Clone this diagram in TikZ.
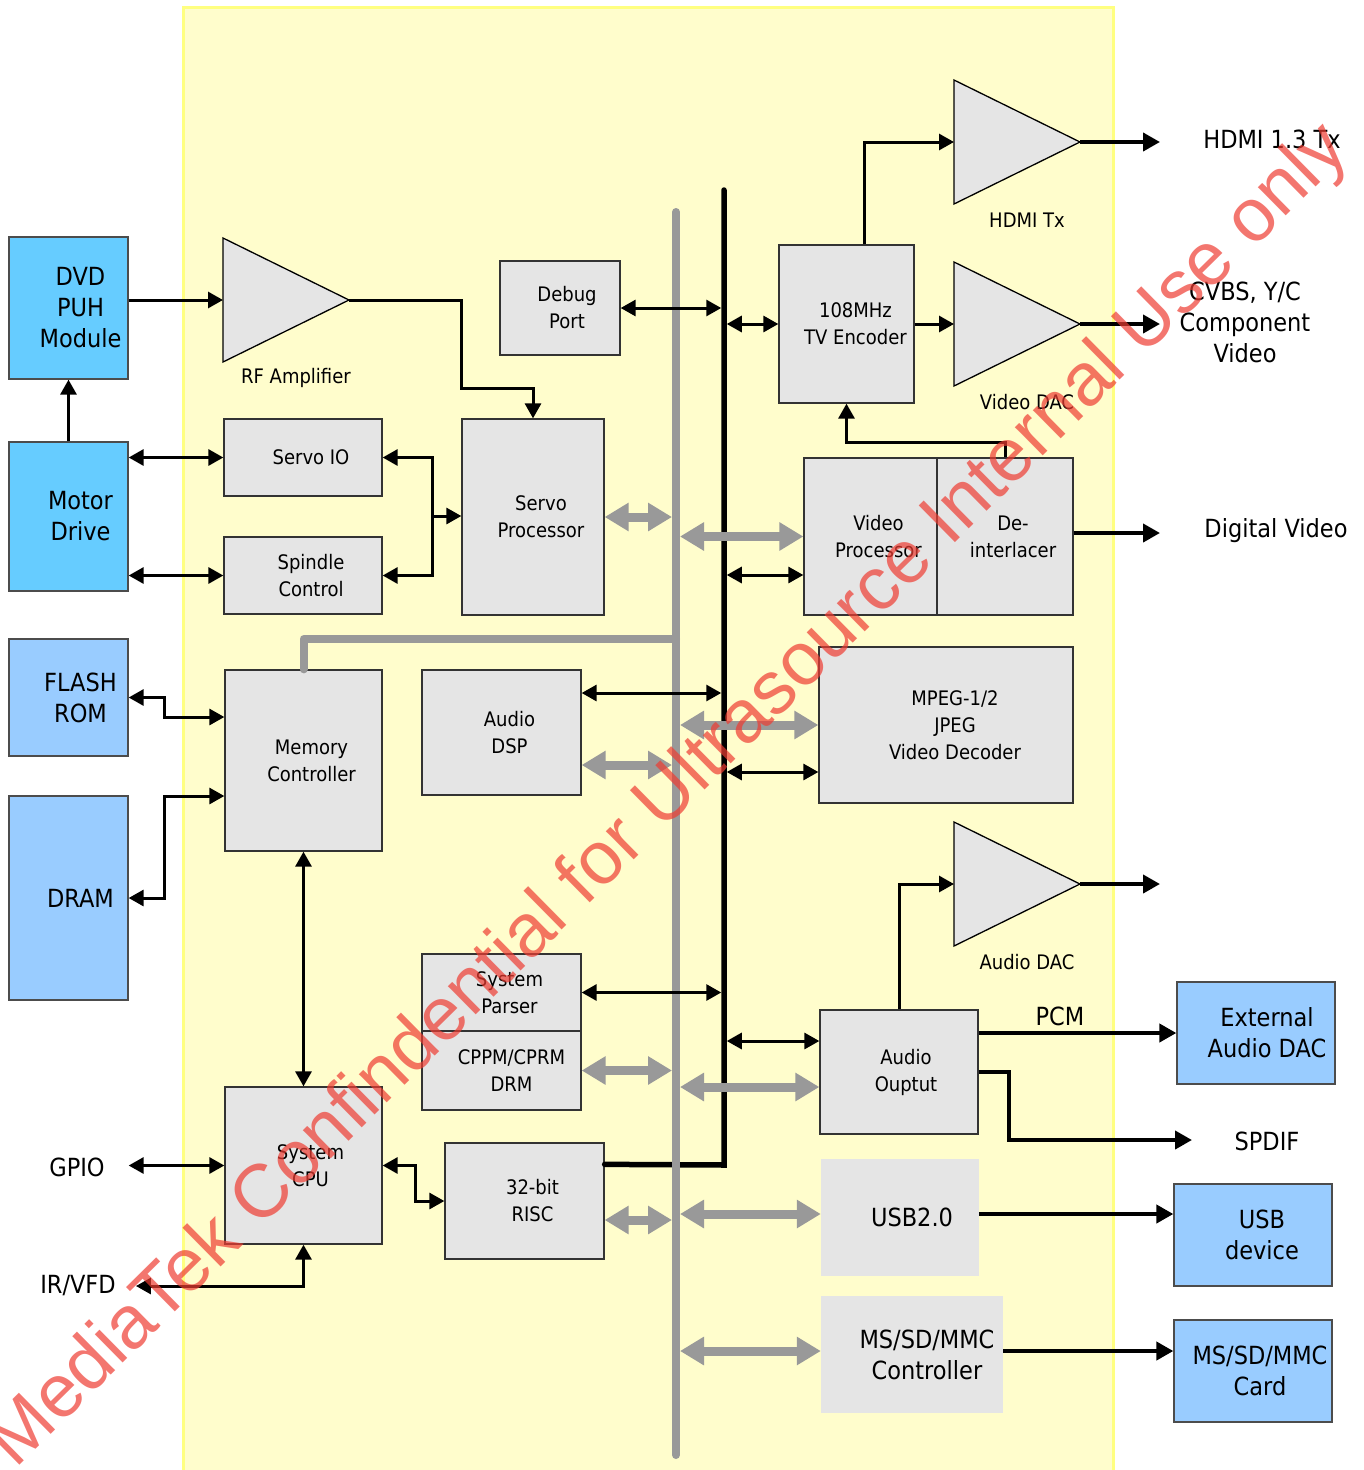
\documentclass[tikz,border=0pt]{standalone}
\usepackage{fontspec}
\setmainfont{DejaVu Sans Condensed}
\newfontfamily\wmfont{Liberation Sans}
\usetikzlibrary{arrows.meta,positioning,calc}

\definecolor{chipyel}{RGB}{255,253,204}
\definecolor{chipedge}{RGB}{255,255,128}
\definecolor{boxgray}{RGB}{229,229,229}
\definecolor{busgray}{RGB}{153,153,153}
\definecolor{puhblue}{RGB}{102,204,255}
\definecolor{memblue}{RGB}{153,204,255}
\definecolor{wmred}{RGB}{238,60,50}

\tikzset{
  txt/.style={font=\fontsize{20}{27}\selectfont, align=center, inner sep=0pt},
  big/.style={font=\fontsize{25}{31}\selectfont, align=center, inner sep=0pt},
  box/.style 2 args={rectangle, draw=black!80, line width=1.3pt, fill=boxgray, inner sep=0pt,
    label={[txt,xshift=#2]center:{#1}}},
  blu/.style 2 args={rectangle, draw=black!70, line width=1.3pt, fill=memblue, inner sep=0pt,
    label={[big,xshift=#2]center:{#1}}},
  pad/.style 2 args={rectangle, fill=boxgray, inner sep=0pt, label={[big,xshift=#2]center:{#1}}},
  amp/.style={draw, line width=1.3pt, fill=boxgray, line join=miter},
  bt/.tip={Triangle[length=15pt,width=16pt]},
  barr/.style={line width=3pt, bt-bt},
  bto/.style={line width=3pt, -bt},
  oarr/.style={line width=4pt, -{Triangle[length=17pt,width=18pt]}},
  garr/.style={draw=busgray, line width=9pt, {Triangle[length=24pt,width=27pt]}-{Triangle[length=24pt,width=27pt]}},
  gline/.style={draw=busgray, line width=8pt, line cap=round, line join=round},
  bline/.style={line width=5.5pt, line cap=round},
  wm/.style={font=\wmfont\fontsize{75}{75}\selectfont, text=wmred, text opacity=0.7, inner sep=0pt}
}

\begin{document}
\begin{tikzpicture}[x=1pt, y=-1pt]
  \useasboundingbox (0,0) rectangle (1364,1470);
  % chip area
  \fill[chipyel] (183,7) rectangle (1113,1470);
  \draw[chipedge, line width=3pt] (183,1470) -- (183,7) -- (1113,7) -- (1113,1470);

  % amplifiers
  \foreach \n/\x/\y/\t in {rfa/223/300/RF Amplifier, hdmi/954/142/HDMI Tx, vdac/954/324/Video DAC, adac/954/884/Audio DAC}{
    \draw[amp] (\x,\y-62) -- (\x+126,\y) -- (\x,\y+62) -- cycle;
    \coordinate (\n-in) at (\x,\y);
    \coordinate (\n-out) at (\x+126,\y);
    \node[txt] (\n-lbl) at (\x+73,\y+78) {\t};
  }

  % off-chip parts
  \node[blu={DVD\\PUH\\Module}{12pt}, fill=puhblue, minimum width=119pt, minimum height=142pt] (puh) at (68.5,308) {};
  \node[blu={Motor\\Drive}{12pt}, fill=puhblue, minimum width=119pt, minimum height=149pt] (mot) at (68.5,516.5) {};
  \node[blu={FLASH\\ROM}{12pt}, minimum width=119pt, minimum height=117pt] (flash) at (68.5,697.5) {};
  \node[blu={DRAM}{12pt}, minimum width=119pt, minimum height=204pt] (dram) at (68.5,898) {};
  \node[blu={External\\Audio DAC}{11pt}, minimum width=158pt, minimum height=102pt] (xdac) at (1256,1033) {};
  \node[blu={USB\\device}{9pt}, minimum width=158pt, minimum height=102pt] (usbd) at (1253,1235) {};
  \node[blu={MS/SD/MMC\\Card}{7pt}, minimum width=158pt, minimum height=102pt] (card) at (1253,1371) {};

  \node[big] (hdmi-o) at (1272,139) {HDMI 1.3 Tx};
  \node[big] (cvbs) at (1245,322) {CVBS, Y/C\\Component\\Video};
  \node[big] (dvid) at (1276,531) {Digital Video};
  \node[big] (gpio) at (77,1167) {GPIO};
  \node[big] (irvfd) at (78,1286) {IR/VFD};
  \node[big] (pcm) at (1060,1016) {PCM};
  \node[big] (spdif) at (1267,1141) {SPDIF};

  % on-chip blocks
  \node[box={Debug\\Port}{7pt}, minimum width=120pt, minimum height=94pt] (dbg) at (560,308) {};
  \node[box={Servo IO}{8pt}, minimum width=158pt, minimum height=77pt] (sio) at (303,457.5) {};
  \node[box={Spindle\\Control}{8pt}, minimum width=158pt, minimum height=77pt] (spc) at (303,575.5) {};
  \node[box={Servo\\Processor}{8pt}, minimum width=142pt, minimum height=196pt] (srvp) at (533,517) {};
  \node[box={108MHz\\TV Encoder}{9pt}, minimum width=135pt, minimum height=158pt] (tve) at (846.5,324) {};
  \node[box={Video\\Processor}{8pt}, minimum width=133pt, minimum height=157pt] (vp) at (870.5,536.5) {};
  \node[box={De-\\interlacer}{8pt}, minimum width=136pt, minimum height=157pt] (dei) at (1005,536.5) {};
  \node[box={Memory\\Controller}{8pt}, minimum width=157pt, minimum height=181pt] (memc) at (303.5,760.5) {};
  \node[box={Audio\\DSP}{8pt}, minimum width=159pt, minimum height=125pt] (dsp) at (501.5,732.5) {};
  \node[box={MPEG-1/2\\JPEG\\Video Decoder}{9pt}, minimum width=254pt, minimum height=156pt] (mpeg) at (946,725) {};
  \node[box={System\\Parser}{8pt}, minimum width=159pt, minimum height=77pt] (spar) at (501.5,992.5) {};
  \node[box={CPPM/CPRM\\DRM}{10pt}, minimum width=159pt, minimum height=79pt] (cppm) at (501.5,1070.5) {};
  \node[box={Audio\\Ouptut}{7pt}, minimum width=158pt, minimum height=124pt] (aout) at (899,1072) {};
  \node[box={System\\CPU}{7pt}, minimum width=157pt, minimum height=157pt] (cpu) at (303.5,1165.5) {};
  \node[box={32-bit\\RISC}{8pt}, minimum width=159pt, minimum height=116pt] (risc) at (524.5,1201) {};
  \node[pad={USB2.0}{12pt}, minimum width=158pt, minimum height=117pt] (usb) at (900,1217.5) {};
  \node[pad={MS/SD/MMC\\Controller}{15pt}, minimum width=182pt, minimum height=117pt] (msc) at (912,1354.5) {};

  % buses
  \coordinate (gbus) at (676,212);
  \coordinate (gbus-b) at (676,1455);
  \coordinate (gj) at (676,639);
  \coordinate (bbus) at (724,190);
  \coordinate (bbus-b) at (724,1165);
  \draw[bline] ($(risc.north east)+(0,22)$) -- (bbus-b) -- (bbus);
  \draw[gline] (gbus) -- (gbus-b);
  \draw[gline] (memc.north) |- (gj);

  % gray bus links
  \foreach \n/\dy in {srvp/0, dsp/32.5, cppm/0, risc/19}{
    \path ($(\n.east)+(0,\dy)$) coordinate (g);
    \draw[garr, shorten >=4pt] (g) -- (g -| gbus);
  }
  \foreach \n/\dy in {vp/0, mpeg/0, aout/15, usb/-3.5, msc/-3.5}{
    \path ($(\n.west)+(0,\dy)$) coordinate (g);
    \draw[garr, shorten <=4pt] (g -| gbus) -- (g);
  }

  % black bus links
  \foreach \n/\dy in {dbg/0, dsp/-39.5, spar/0}{
    \path ($(\n.east)+(0,\dy)$) coordinate (b);
    \draw[barr, shorten >=2.75pt] (b) -- (b -| bbus);
  }
  \foreach \n/\dy in {tve/0, vp/38.5, mpeg/47, aout/-31}{
    \path ($(\n.west)+(0,\dy)$) coordinate (b);
    \draw[barr, shorten <=2.75pt] (b -| bbus) -- (b);
  }

  % servo side
  \draw[bto] (mot.north) -- (puh.south);
  \draw[bto] (puh.east |- rfa-in) -- (rfa-in);
  \draw[bto] (rfa-out) -- ++(112,0) |- ($(srvp.north)+(0,-30)$) -- (srvp.north);
  \draw[barr] (mot.east |- sio) -- (sio.west);
  \draw[barr] (mot.east |- spc) -- (spc.west);
  \coordinate (sj) at (432,516);
  \draw[barr] (sio.east) -| (sj) |- (spc.east);
  \draw[bto] (sj) -- (sj -| srvp.west);

  % video side
  \coordinate (o-hdmi) at (1160,142);
  \coordinate (o-vdac) at (1160,324);
  \coordinate (o-dv) at (1160,533);
  \coordinate (o-adac) at (1160,884);
  \coordinate (o-spdif) at (1192,1140);
  \draw[bto] ($(tve.north)+(18,0)$) |- (hdmi-in);
  \draw[bto] (tve.east) -- (vdac-in);
  \draw[oarr] (hdmi-out) -- (o-hdmi);
  \draw[oarr] (vdac-out) -- (o-vdac);
  \draw[bto] (dei.north) |- ($(tve.south)+(0,39)$) -- (tve.south);
  \draw[oarr] (dei.east |- o-dv) -- (o-dv);

  % memory and cpu
  \draw[barr] (flash.east) -- ++(36,0) |- ($(memc.west)+(0,-43.5)$);
  \draw[barr] (dram.east) -- ++(36,0) |- ($(memc.west)+(0,35.5)$);
  \draw[barr] (memc.south) -- (cpu.north);
  \draw[barr] (cpu.west -| mot.east) -- (cpu.west);
  \draw[barr] (cpu.south) |- ([xshift=20pt]irvfd.east);
  \draw[barr] (cpu.east) -- ++(33,0) |- (risc.west);

  % audio and peripherals
  \draw[bto] (aout.north) |- (adac-in);
  \draw[oarr] (adac-out) -- (o-adac);
  \draw[oarr] (aout.east |- xdac.west) -- (xdac.west);
  \draw[oarr] (aout.east) -- ++(30,0) |- (o-spdif);
  \draw[oarr] ($(usb.east)+(0,-3.5)$) coordinate (u) -- (u -| usbd.west);
  \draw[oarr] ($(msc.east)+(0,-3.5)$) coordinate (m) -- (m -| card.west);

  % watermark
  \node[wm, rotate=44.6] (wmark) at (670,797) {MediaTek Confindential for Ultrasource Internal Use only};
\end{tikzpicture}
\end{document}
